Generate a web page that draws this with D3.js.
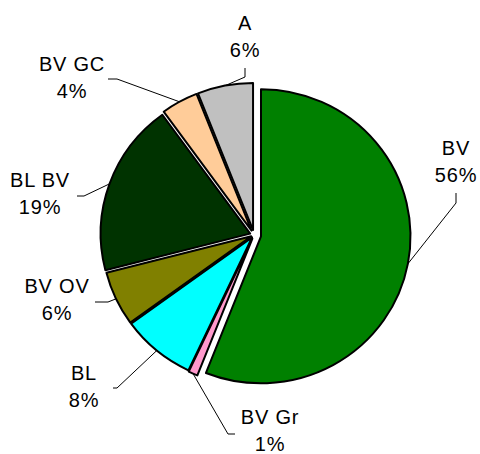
<!DOCTYPE html>
<html>
<head>
<meta charset="utf-8">
<script src="https://cdn.jsdelivr.net/npm/d3@7/dist/d3.min.js"></script>
<style>
  html, body { margin: 0; padding: 0; background: #fff; }
  svg { display: block; }
  text { font-family: "Liberation Sans", Arial, sans-serif; font-size: 20px; letter-spacing: 0.8px; fill: #000; }
</style>
</head>
<body>
<div id="chart"></div>
<script>
// slices, clockwise from 12 o'clock
const categories = ["BV", "BV Gr", "BL", "BV OV", "BL BV", "BV GC", "A"];
const shares = [56, 1, 8, 6, 19, 4, 6];
const colors = ["#008000", "#ff99cc", "#00ffff", "#808000", "#003300", "#ffcc99", "#c0c0c0"];
// how far each slice is pulled out of the pie
const explode = [7, 4, 3, 3, 4, 5, 5];

// label text position (centre x, first baseline) and leader start / elbow
const labelLayout = [
  { x: 456, y: 155, start: [456, 193], elbow: [456, 203] },
  { x: 270, y: 424, start: [235, 434], elbow: [228, 434] },
  { x: 84,  y: 380, start: [113, 388], elbow: [117, 388] },
  { x: 57,  y: 293, start: [95, 302],  elbow: [108, 302] },
  { x: 40,  y: 187, start: [77, 196],  elbow: [84, 196] },
  { x: 72,  y: 71,  start: [108, 79],  elbow: [117, 79] },
  { x: 245, y: 30,  start: [245, 68],  elbow: [245, 77] }
];

const width = 480, height = 454;
const cx = 254, cy = 235, radius = 147, sx = 1.017;
const lineGap = 27;

const svg = d3.select("#chart").append("svg")
  .attr("width", width)
  .attr("height", height);

const pie = d3.pie().sort(null).value(d => d)(shares);
const arc = d3.arc().innerRadius(0).outerRadius(radius);

const pieG = svg.append("g")
  .attr("transform", `translate(${cx},${cy}) scale(${sx},1)`);

pieG.selectAll("path")
  .data(pie)
  .enter()
  .append("path")
  .attr("d", arc)
  .attr("fill", (d, i) => colors[i])
  .attr("stroke", "#000")
  .attr("stroke-width", 2)
  .attr("stroke-linejoin", "round")
  .attr("vector-effect", "non-scaling-stroke")
  .attr("transform", (d, i) => {
    const mid = (d.startAngle + d.endAngle) / 2;
    return `translate(${explode[i] * Math.sin(mid)},${-explode[i] * Math.cos(mid)})`;
  });

// leader lines: from label to the middle of each slice's outer edge
pie.forEach((d, i) => {
  const mid = (d.startAngle + d.endAngle) / 2;
  const rr = radius + explode[i];
  const ax = cx + sx * rr * Math.sin(mid);
  const ay = cy - rr * Math.cos(mid);
  const L = labelLayout[i];
  svg.append("polyline")
    .attr("points", [L.start, L.elbow, [ax, ay]].map(p => p.join(",")).join(" "))
    .attr("fill", "none")
    .attr("stroke", "#000")
    .attr("stroke-width", 1);
});

// labels
const labels = svg.selectAll("text.lbl")
  .data(pie)
  .enter()
  .append("text")
  .attr("class", "lbl")
  .attr("text-anchor", "middle");

labels.append("tspan")
  .attr("x", (d, i) => labelLayout[i].x)
  .attr("y", (d, i) => labelLayout[i].y)
  .text((d, i) => categories[i]);

labels.append("tspan")
  .attr("x", (d, i) => labelLayout[i].x)
  .attr("y", (d, i) => labelLayout[i].y + lineGap)
  .text((d, i) => shares[i] + "%");
</script>
</body>
</html>
